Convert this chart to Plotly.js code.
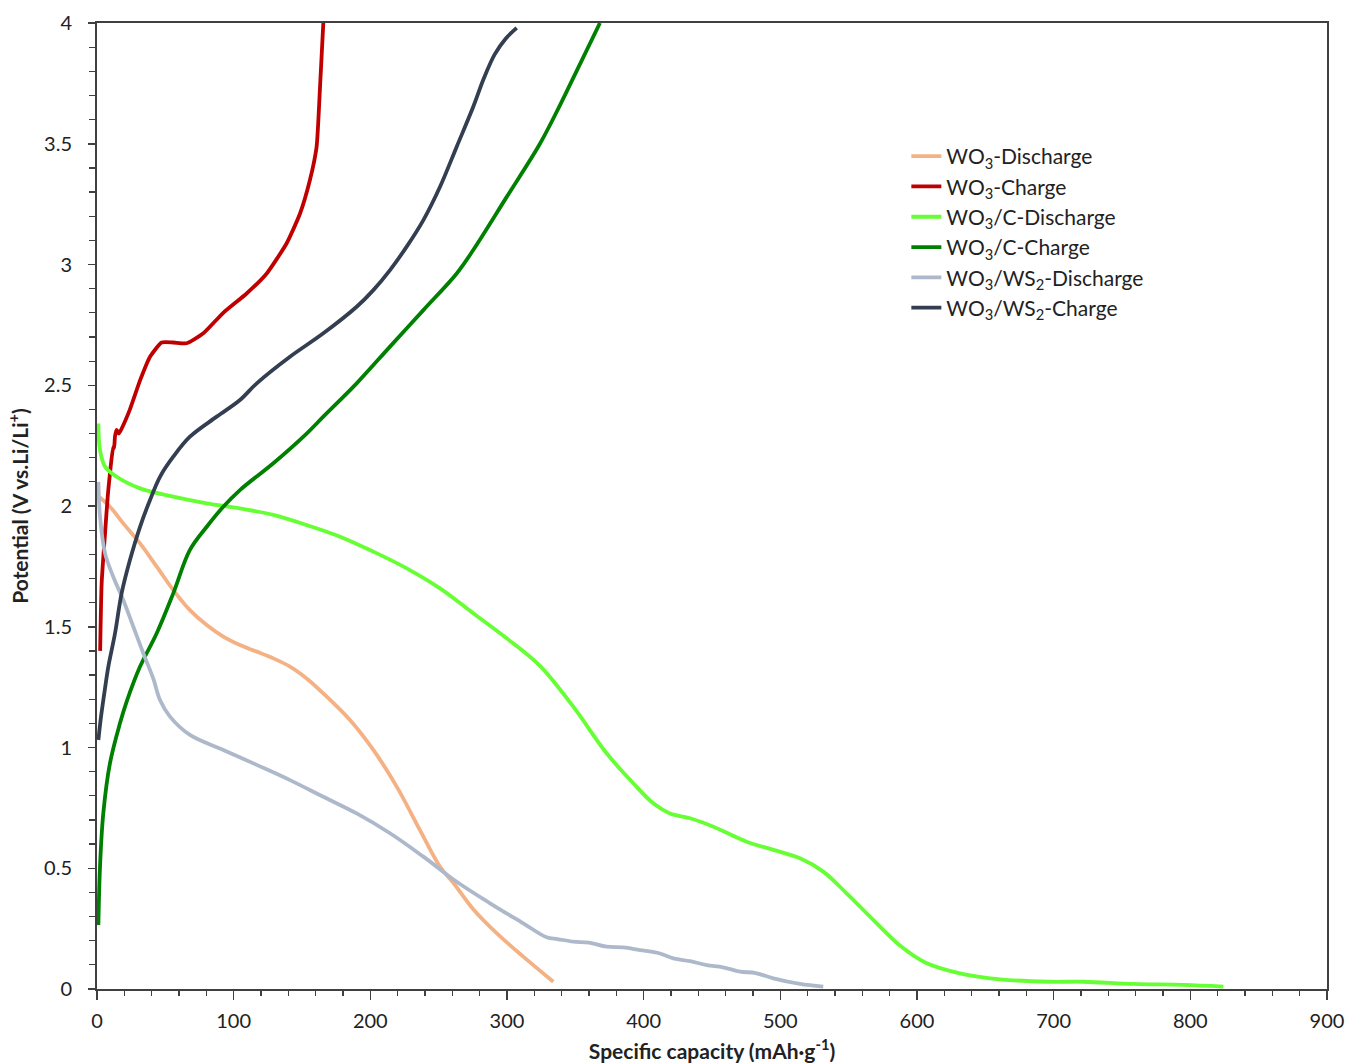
<!DOCTYPE html>
<html>
<head>
<meta charset="utf-8">
<script src="https://cdn.plot.ly/plotly-3.0.1.min.js"></script>
<style>html,body{margin:0;padding:0;background:#fff;}#chart{width:1346px;height:1063px;}</style>
</head>
<body>
<div id="chart"></div>
<script>
// WO3 discharge
const wo3DisX = [1, 9.5, 19.2, 31.5, 43.7, 55.8, 68, 80.3, 92.4, 104.6, 116.9, 129, 141.2, 153.4, 165.6, 185.1, 202.2, 219.3, 236.3, 251, 260.7, 275.3, 292.4, 311.9, 333.9];
const wo3DisY = [2.04, 1.997, 1.928, 1.845, 1.749, 1.652, 1.569, 1.507, 1.459, 1.424, 1.397, 1.369, 1.335, 1.286, 1.224, 1.114, 0.99, 0.838, 0.658, 0.506, 0.44, 0.33, 0.231, 0.134, 0.03];
// WO3 charge
const wo3ChX = [2.3, 3.4, 5.9, 8, 10, 11.9, 12.5, 13.2, 14.4, 16, 18, 24.1, 31.5, 38.8, 47.3, 55.8, 65.6, 77.8, 92.4, 109.5, 124.2, 138.8, 148.5, 155.8, 160.7, 163.2, 165.6];
const wo3ChY = [1.40, 1.68, 1.888, 2.05, 2.163, 2.245, 2.24, 2.29, 2.315, 2.30, 2.32, 2.40, 2.52, 2.618, 2.677, 2.677, 2.674, 2.715, 2.80, 2.88, 2.963, 3.088, 3.21, 3.35, 3.488, 3.736, 4.0];
// WO3/C discharge
const wocDisX = [1, 2.2, 5.9, 14.4, 31.5, 55.8, 80.3, 104.6, 129, 153.4, 177.8, 202.2, 226.6, 251, 275.3, 299.8, 324.1, 348.5, 372.9, 392.4, 407, 419.3, 433.9, 451, 475.4, 494.9, 514.4, 531.4, 548.5, 568, 587.5, 606, 631.4, 660.7, 697.3, 721.7, 758.3, 794.9, 824.2];
const wocDisY = [2.342, 2.232, 2.163, 2.121, 2.073, 2.039, 2.011, 1.99, 1.963, 1.921, 1.873, 1.811, 1.742, 1.659, 1.556, 1.452, 1.338, 1.169, 0.976, 0.852, 0.769, 0.727, 0.707, 0.672, 0.61, 0.576, 0.541, 0.486, 0.396, 0.286, 0.18, 0.11, 0.065, 0.04, 0.03, 0.03, 0.021, 0.017, 0.01];
// WO3/C charge
const wocChX = [1, 2.2, 4.6, 9.5, 16.8, 21.7, 31.5, 43.7, 55.8, 68, 80.3, 92.4, 104.6, 129, 153.4, 165.6, 190, 214.4, 238.8, 263.2, 275.3, 299.8, 324.1, 338.8, 353.4, 368];
const wocChY = [0.265, 0.506, 0.727, 0.935, 1.10, 1.19, 1.335, 1.473, 1.638, 1.818, 1.914, 1.997, 2.066, 2.177, 2.30, 2.37, 2.508, 2.66, 2.811, 2.963, 3.06, 3.28, 3.50, 3.66, 3.83, 4.0];
// WO3/WS2 discharge
const wwsDisX = [1, 2.2, 5.9, 11.9, 19.2, 26.6, 33.9, 41.2, 46.1, 53.4, 68, 92.4, 116.9, 141.2, 165.6, 190, 214.4, 238.8, 263.2, 287.6, 311.9, 329, 337, 348.5, 360, 372.9, 385, 397.3, 410, 421.7, 434, 446.1, 458, 470.5, 482, 494.9, 514.4, 531.4];
const wwsDisY = [2.10, 1.956, 1.804, 1.707, 1.611, 1.50, 1.39, 1.285, 1.197, 1.128, 1.052, 0.99, 0.928, 0.865, 0.796, 0.727, 0.645, 0.548, 0.444, 0.355, 0.272, 0.214, 0.207, 0.196, 0.192, 0.175, 0.172, 0.161, 0.150, 0.127, 0.115, 0.099, 0.090, 0.072, 0.066, 0.044, 0.021, 0.01];
// WO3/WS2 charge
const wwsChX = [1, 3, 6, 8.3, 13.2, 18, 24.1, 31.5, 38.8, 46.1, 55.8, 68, 87.6, 104.6, 116.9, 141.2, 165.6, 190, 202.2, 214.4, 226.6, 238.8, 251, 263.2, 275.3, 283, 291, 299, 307.1];
const wwsChY = [1.031, 1.13, 1.25, 1.335, 1.473, 1.638, 1.776, 1.914, 2.025, 2.121, 2.204, 2.287, 2.37, 2.439, 2.508, 2.618, 2.715, 2.825, 2.894, 2.977, 3.074, 3.184, 3.322, 3.488, 3.653, 3.77, 3.87, 3.935, 3.98];

const names = ['WO<sub>3</sub>-Discharge', 'WO<sub>3</sub>-Charge', 'WO<sub>3</sub>/C-Discharge', 'WO<sub>3</sub>/C-Charge', 'WO<sub>3</sub>/WS<sub>2</sub>-Discharge', 'WO<sub>3</sub>/WS<sub>2</sub>-Charge'];
const colors = ['#F4B183', '#C00000', '#66FF33', '#008000', '#ADB9CA', '#333F50'];
const xs = [wo3DisX, wo3ChX, wocDisX, wocChX, wwsDisX, wwsChX];
const ys = [wo3DisY, wo3ChY, wocDisY, wocChY, wwsDisY, wwsChY];
const smooth = [1.0, 0.5, 1.0, 1.0, 1.0, 1.0];

const traces = names.map((n, i) => ({
  x: xs[i], y: ys[i], name: n, type: 'scatter', mode: 'lines',
  line: {color: colors[i], width: 3.8, shape: 'spline', smoothing: smooth[i]}
}));

const fontFam = 'Lato, "Open Sans", sans-serif';
const layout = {
  width: 1346, height: 1063,
  margin: {l: 97, r: 19, t: 23, b: 74},
  paper_bgcolor: '#fff', plot_bgcolor: '#fff',
  font: {family: fontFam, size: 20, color: '#222'},
  showlegend: true,
  legend: {x: 0.658, y: 0.883, xanchor: 'left', yanchor: 'top', bgcolor: 'rgba(0,0,0,0)',
           font: {family: fontFam, size: 21, color: '#222'}, tracegroupgap: 0},
  xaxis: {
    range: [0, 900], dtick: 100, tick0: 0, showgrid: false, zeroline: false,
    showline: true, linecolor: '#404040', linewidth: 2, mirror: true,
    ticks: 'outside', ticklen: 9, tickwidth: 1.5, tickcolor: '#404040',
    minor: {dtick: 20, ticks: 'outside', ticklen: 5, tickwidth: 1.2, tickcolor: '#404040', showgrid: false},
    tickfont: {family: fontFam, size: 20, color: '#222'},
    ticklabelstandoff: 4,
    title: {text: '<b>Specific capacity (mAh·g<sup>-1</sup>)</b>', font: {family: fontFam, size: 21, color: '#222'}, standoff: 14}
  },
  yaxis: {
    range: [0, 4], dtick: 0.5, tick0: 0, showgrid: false, zeroline: false,
    showline: true, linecolor: '#404040', linewidth: 2, mirror: true,
    ticks: 'outside', ticklen: 7, tickwidth: 1.5, tickcolor: '#404040',
    minor: {dtick: 0.1, ticks: 'outside', ticklen: 6, tickwidth: 1.2, tickcolor: '#404040', showgrid: false},
    tickfont: {family: fontFam, size: 20, color: '#222'},
    ticklabelstandoff: 12,
    title: {text: '<b>Potential (V vs.Li/Li<sup>+</sup>)</b>', font: {family: fontFam, size: 21, color: '#222'}, standoff: 10}
  }
};
Plotly.newPlot('chart', traces, layout, {displayModeBar: false, staticPlot: true});
</script>
</body>
</html>
